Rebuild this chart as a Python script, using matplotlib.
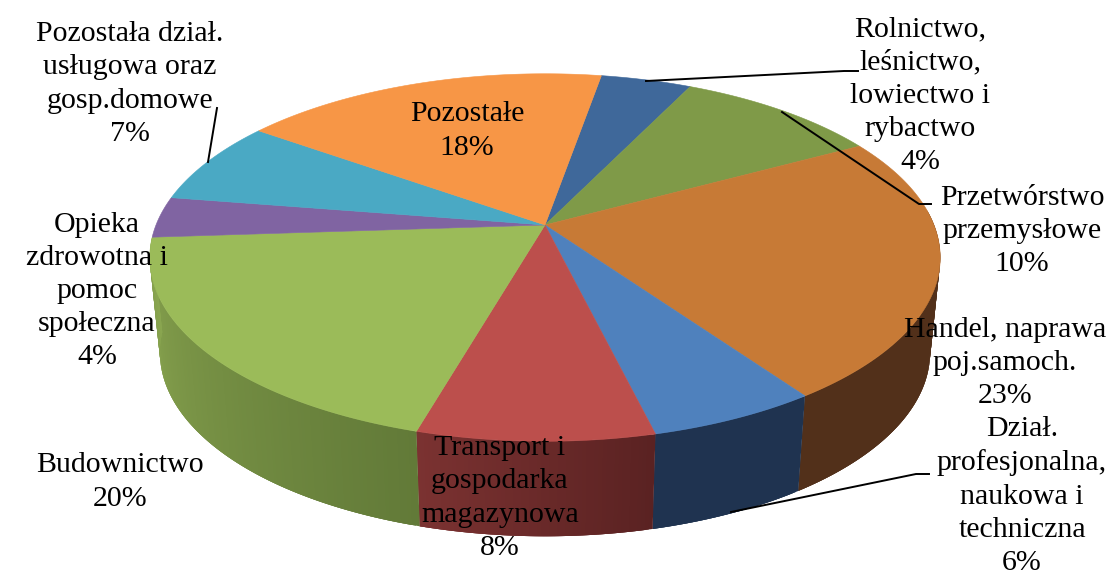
import numpy as np
import matplotlib
matplotlib.use("Agg")
import matplotlib.pyplot as plt
from matplotlib.patches import Polygon
from matplotlib.colors import to_rgb

# slices clockwise from the top of the pie
labels = ["Rolnictwo,\nleśnictwo,\nlowiectwo i\nrybactwo\n4%",
          "Przetwórstwo\nprzemysłowe\n10%",
          "Handel, naprawa\npoj.samoch.\n23%",
          "Dział.\nprofesjonalna,\nnaukowa i\ntechniczna\n6%",
          "Transport i\ngospodarka\nmagazynowa\n8%",
          "Budownictwo\n20%",
          "Opieka\nzdrowotna i\npomoc\nspołeczna\n4%",
          "Pozostała dział.\nusługowa oraz\ngosp.domowe\n7%",
          "Pozostałe\n18%"]
# the printed percents are rounded differently
values = [4.4, 9.9, 23.3, 5.9, 8.2, 19.5, 3.6, 7.4, 17.8]
colors = ["#3f689a", "#7f9a48", "#c77a36", "#4f81bd", "#bc4f4c",
          "#9bbb59", "#8064a2", "#4aa9c4", "#f79646"]
wall_left = ["#3f689a", "#7f9a48", "#52301a", "#1f3350", "#7b3231",
             "#8aa650", "#8064a2", "#4aa9c4", "#f79646"]
wall_right = ["#3f689a", "#7f9a48", "#52301a", "#1f3350", "#5a2222",
              "#627a38", "#8064a2", "#4aa9c4", "#f79646"]
label_x = [920, 1022, 1005, 1022, 500, 120, 97, 130, 467]
label_y = [96, 231, 363, 496, 498, 482, 291, 84, 131]
leaders = [[(646, 81), (844, 71), (858, 71)],
           [(782, 112), (919, 204), (931, 204)],
           [(731, 512), (916, 474), (929, 474)],
           [(208, 162), (217, 108)]]

start = 9.8
cx, cy = 545, 225
persp = 0.177


def top_edge(deg):
    a = np.radians(deg)
    u, v = np.sin(a), np.cos(a)
    return cx + 389 * u / (1 + persp * v), cy - 178 * v / (1 + persp * v)


def bottom_edge(deg):
    a = np.radians(deg)
    u, v = np.sin(a), np.cos(a)
    return cx + 379 * u / (1 + persp * v), cy + 95 - 178 * v / (1 + persp * v)


fig = plt.figure(figsize=(11.11, 5.74), dpi=100)
ax = fig.add_axes([0, 0, 1, 1])
ax.set_xlim(0, 1111)
ax.set_ylim(574, 0)
ax.axis("off")

edges = start + np.cumsum([0] + values) * 3.6

# side wall, only the front part shows. overlap strips so no ribs appear
wall_end = edges[6]
for i in range(len(values)):
    a0 = max(edges[i], 85)
    a1 = min(edges[i + 1], wall_end)
    if a1 <= a0:
        continue
    steps = np.linspace(a0, a1, int(a1 - a0) * 2 + 2)
    c0 = np.array(to_rgb(wall_right[i]))
    c1 = np.array(to_rgb(wall_left[i]))
    for j in range(len(steps) - 1):
        t = (j + 0.5) / (len(steps) - 1)
        end = min(steps[j + 1] + 1.0, a1)
        tx0, ty0 = top_edge(steps[j])
        tx1, ty1 = top_edge(end)
        bx0, by0 = bottom_edge(steps[j])
        bx1, by1 = bottom_edge(end)
        col = c0 + (c1 - c0) * t
        ax.add_patch(Polygon([(tx0, ty0), (tx1, ty1), (bx1, by1), (bx0, by0)],
                             facecolor=col, edgecolor="none", zorder=1 + i * 0.01))

# top face
for i in range(len(values)):
    angles = np.linspace(edges[i], edges[i + 1], 80)
    xs, ys = top_edge(angles)
    pts = [(cx, cy)] + list(zip(xs, ys))
    ax.add_patch(Polygon(pts, facecolor=colors[i], edgecolor=colors[i],
                         linewidth=0.4, zorder=2))

for line in leaders:
    ax.plot([p[0] for p in line], [p[1] for p in line], color="black", lw=1.4, zorder=3)

for i in range(len(labels)):
    ax.text(label_x[i], label_y[i], labels[i], ha="center", va="center",
            fontsize=21.5, family="Liberation Serif", linespacing=1.36, color="black", zorder=4)

fig.savefig("out.png", dpi=100)
